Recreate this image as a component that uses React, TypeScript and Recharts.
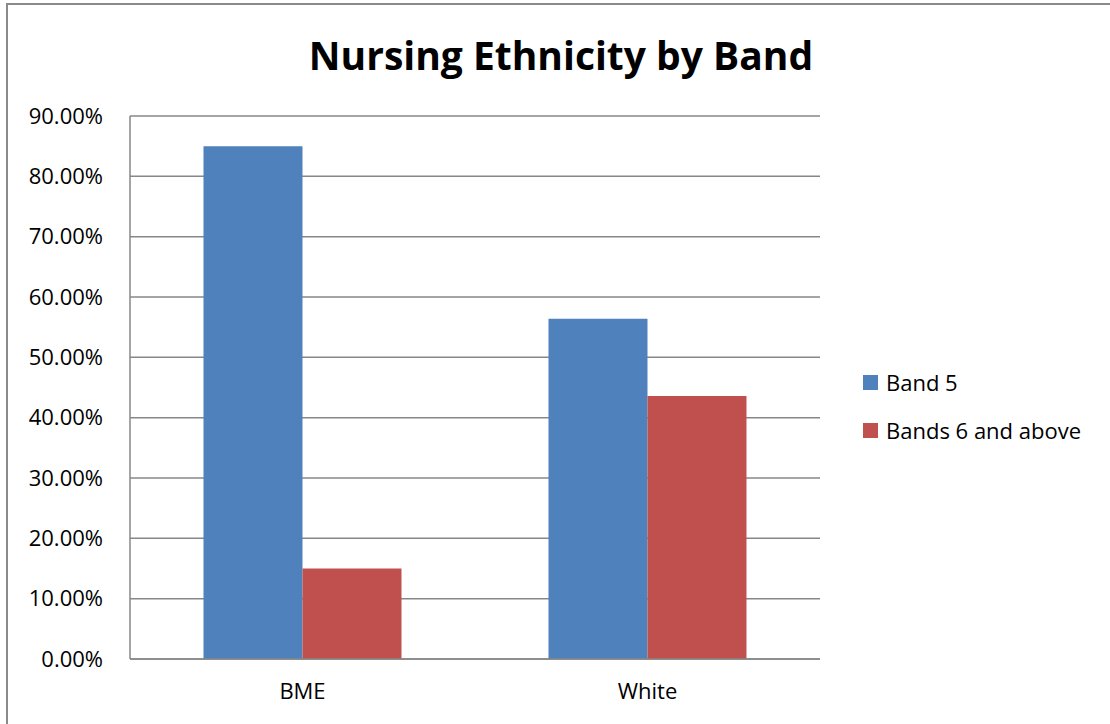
import { BarChart, Bar, XAxis, YAxis, CartesianGrid } from "recharts";

const groups = ["BME", "White"];
const band5 = [0.85, 0.564];
const band6Plus = [0.15, 0.436];
const yTicks = [0, 0.1, 0.2, 0.3, 0.4, 0.5, 0.6, 0.7, 0.8, 0.9];

const data = groups.map((name, i) => ({
  name,
  band5: band5[i],
  band6Plus: band6Plus[i],
}));

const FONT = "'Open Sans', 'Noto Sans', sans-serif";
const GRID = "#878787";
const BLUE = "#4F81BD";
const RED = "#C0504D";

const legendItems = [
  { label: "Band 5", color: BLUE },
  { label: "Bands 6 and above", color: RED },
];

export default function App() {
  return (
    <div
      style={{
        position: "fixed",
        left: 0,
        top: 0,
        width: 1110,
        height: 724,
        background: "#fff",
        overflow: "hidden",
        fontFamily: FONT,
      }}
    >
      {/* frame edge */}
      <div
        style={{
          position: "absolute",
          left: 6,
          top: 3,
          width: 1200,
          height: 800,
          borderLeft: "2px solid #8a8a8a",
          borderTop: "2px solid #8a8a8a",
        }}
      />

      <div
        style={{
          position: "absolute",
          left: 0,
          width: 1122,
          top: 28,
          textAlign: "center",
          fontSize: 39,
          fontWeight: 700,
          color: "#000",
          lineHeight: "54px",
        }}
      >
        Nursing Ethnicity by Band
      </div>

      <div style={{ position: "absolute", left: 0, top: 0 }}>
        <BarChart
          width={1110}
          height={724}
          data={data}
          margin={{ top: 116, right: 290, bottom: 35, left: 0 }}
          barCategoryGap="21.3%"
          barGap={0}
        >
          <CartesianGrid vertical={false} stroke={GRID} strokeWidth={1.5} />
          <XAxis
            dataKey="name"
            height={30}
            axisLine={{ stroke: GRID, strokeWidth: 1.5 }}
            tickLine={false}
            tickSize={0}
            tickMargin={24}
            tick={{ fill: "#000", fontSize: 22, fontFamily: FONT }}
          />
          <YAxis
            width={130}
            domain={[0, 0.9]}
            ticks={yTicks}
            interval={0}
            axisLine={{ stroke: GRID, strokeWidth: 1.5 }}
            tickLine={false}
            tickSize={0}
            tickMargin={27}
            tickFormatter={(v: number) => (v * 100).toFixed(2) + "%"}
            tick={{ fill: "#000", fontSize: 22, fontFamily: FONT }}
          />
          <Bar dataKey="band5" name="Band 5" fill={BLUE} isAnimationActive={false} />
          <Bar dataKey="band6Plus" name="Bands 6 and above" fill={RED} isAnimationActive={false} />
        </BarChart>
      </div>

      {/* legend */}
      <div style={{ position: "absolute", left: 863, top: 368 }}>
        {legendItems.map((item) => (
          <div
            key={item.label}
            style={{ display: "flex", alignItems: "center", height: 28, marginBottom: 20 }}
          >
            <span
              style={{
                display: "inline-block",
                width: 15,
                height: 15,
                background: item.color,
                marginRight: 8,
              }}
            />
            <span style={{ fontSize: 22, color: "#000" }}>{item.label}</span>
          </div>
        ))}
      </div>
    </div>
  );
}
